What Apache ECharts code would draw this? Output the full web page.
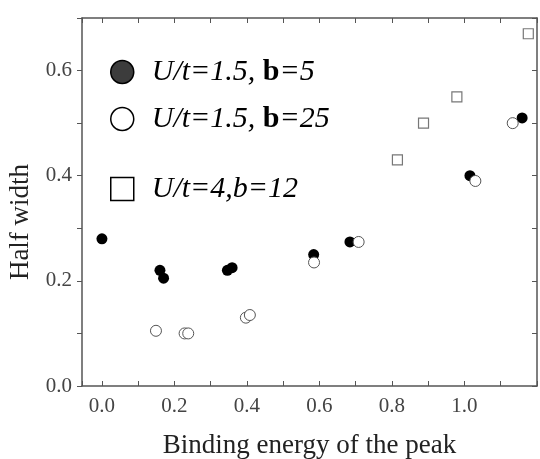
<!DOCTYPE html>
<html>
<head>
<meta charset="utf-8">
<script src="https://cdn.jsdelivr.net/npm/echarts@6/dist/echarts.min.js"></script>
<style>
html,body{margin:0;padding:0;background:#fff;}
#chart{width:540px;height:459px;}
</style>
</head>
<body>
<div id="chart"></div>
<script>
// U/t=1.5, b=5 (filled circles)  [binding energy, half width]
var peaksB5 = [
    [0.0, 0.28], [0.16, 0.22], [0.17, 0.205], [0.346, 0.22], [0.359, 0.225],
    [0.584, 0.25], [0.684, 0.274], [1.015, 0.40], [1.159, 0.51]
];
// U/t=1.5, b=25 (open circles)
var peaksB25 = [
    [0.149, 0.105], [0.228, 0.10], [0.238, 0.10], [0.397, 0.13], [0.408, 0.135],
    [0.585, 0.235], [0.708, 0.274], [1.03, 0.39], [1.133, 0.50]
];
// U/t=4, b=12 (open squares)
var peaksU4 = [
    [0.815, 0.43], [0.887, 0.50], [0.979, 0.55], [1.176, 0.67]
];
var seriesNames = ['U/t=1.5, b=5', 'U/t=1.5, b=25', 'U/t=4,b=12'];

var serif = '"Liberation Serif", "DejaVu Serif", serif';
var axisColor = '#555';

// labels only on every 0.2 up to 1.0, ticks every 0.1
function tickLabel(v) {
    var k = Math.round(v * 10);
    if (Math.abs(v * 10 - k) > 1e-6 || k > 10) return '';
    return k % 2 === 0 ? (k / 10).toFixed(1) : '';
}

var legendRich = {
    i: {fontFamily: serif, fontStyle: 'italic', fontSize: 30, color: '#000', lineHeight: 30},
    b: {fontFamily: serif, fontWeight: 'bold', fontSize: 30, color: '#000', lineHeight: 30}
};

var myChart = echarts.init(document.getElementById('chart'));
myChart.setOption({
    animation: false,
    backgroundColor: '#fff',
    grid: {left: 82, right: 3, top: 18, bottom: 73, outerBoundsMode: 'none', containLabel: false},
    legend: [{
        left: 105, top: 52, orient: 'vertical',
        itemWidth: 23, itemHeight: 23, itemGap: 17,
        selectedMode: false,
        textStyle: {padding: [0, 0, 0, 13], rich: legendRich},
        formatter: function (name) {
            return name === seriesNames[0] ? '{i|U/t=1.5, }{b|b}{i|=5}' : '{i|U/t=1.5, }{b|b}{i|=25}';
        },
        data: [
            {name: seriesNames[0], icon: 'circle', itemStyle: {color: '#3c3c3c', borderColor: '#000', borderWidth: 1.5}},
            {name: seriesNames[1], icon: 'circle', itemStyle: {color: '#fff', borderColor: '#000', borderWidth: 1.5}}
        ]
    }, {
        left: 105, top: 169, orient: 'vertical',
        itemWidth: 23, itemHeight: 23,
        selectedMode: false,
        textStyle: {padding: [0, 0, 0, 13], rich: legendRich},
        formatter: function () { return '{i|U/t=4,b=12}'; },
        data: [
            {name: seriesNames[2], icon: 'rect', itemStyle: {color: '#fff', borderColor: '#000', borderWidth: 1.5}}
        ]
    }],
    xAxis: [{
        type: 'value', position: 'bottom',
        min: -0.055, max: 1.2, splitNumber: 12,
        name: 'Binding energy of the peak',
        nameLocation: 'middle', nameGap: 46,
        nameTextStyle: {fontFamily: serif, fontSize: 27, color: '#222'},
        axisLine: {show: true, onZero: false, lineStyle: {color: axisColor, width: 1.5}},
        axisTick: {show: true, inside: true, length: 5, lineStyle: {color: axisColor}},
        axisLabel: {formatter: tickLabel, fontFamily: serif, fontSize: 21, color: '#444', margin: 10},
        splitLine: {show: false}
    }, {
        type: 'value', position: 'top',
        min: -0.055, max: 1.2, splitNumber: 12,
        axisLine: {show: true, onZero: false, lineStyle: {color: axisColor, width: 1.5}},
        axisTick: {show: true, inside: true, length: 5, lineStyle: {color: axisColor}},
        axisLabel: {show: false},
        splitLine: {show: false}
    }],
    yAxis: [{
        type: 'value', position: 'left',
        min: 0, max: 0.7, interval: 0.1,
        name: 'Half width',
        nameLocation: 'middle', nameGap: 45,
        nameTextStyle: {fontFamily: serif, fontSize: 27, color: '#222', padding: [0, 40, 0, 0]},
        axisLine: {show: true, onZero: false, lineStyle: {color: axisColor, width: 1.5}},
        axisTick: {show: true, inside: false, length: 5, lineStyle: {color: axisColor}},
        axisLabel: {formatter: tickLabel, fontFamily: serif, fontSize: 21, color: '#444', margin: 10},
        splitLine: {show: false}
    }, {
        type: 'value', position: 'right',
        min: 0, max: 0.7, interval: 0.1,
        axisLine: {show: true, onZero: false, lineStyle: {color: axisColor, width: 1.5}},
        axisTick: {show: true, inside: true, length: 5, lineStyle: {color: axisColor}},
        axisLabel: {show: false},
        splitLine: {show: false}
    }],
    series: [{
        name: seriesNames[0],
        type: 'scatter',
        symbol: 'circle', symbolSize: 11,
        itemStyle: {color: '#000', opacity: 1},
        data: peaksB5
    }, {
        name: seriesNames[1],
        type: 'scatter',
        symbol: 'circle', symbolSize: 11,
        itemStyle: {color: '#fff', borderColor: '#555', borderWidth: 1, opacity: 1},
        data: peaksB25
    }, {
        name: seriesNames[2],
        type: 'scatter',
        symbol: 'rect', symbolSize: 10,
        itemStyle: {color: '#fff', borderColor: '#777', borderWidth: 1.2, opacity: 1},
        data: peaksU4
    }]
});
</script>
</body>
</html>
